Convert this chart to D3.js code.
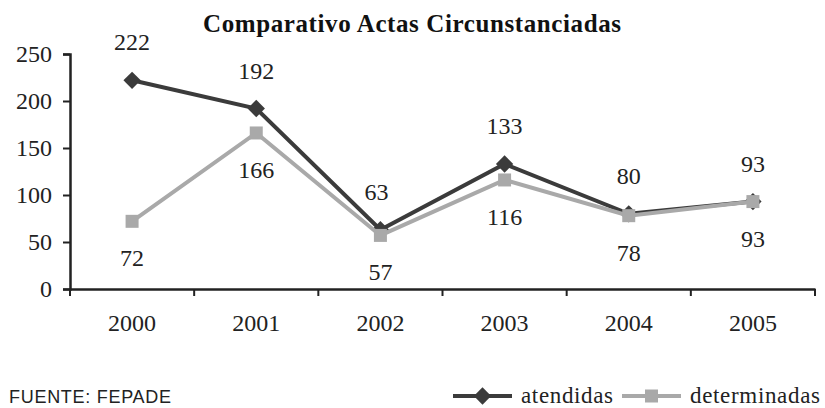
<!DOCTYPE html>
<html>
<head>
<meta charset="utf-8">
<script src="https://cdn.jsdelivr.net/npm/d3@7"></script>
<style>
  body { margin: 0; background: #fff; }
</style>
</head>
<body>
<svg id="scene"></svg>
<script>
// chart data
let years = ['2000', '2001', '2002', '2003', '2004', '2005']
let atendidas = [222, 192, 63, 133, 80, 93]
let determinadas = [72, 166, 57, 116, 78, 93]
let yTicks = [0, 50, 100, 150, 200, 250]

const serif = '"Liberation Serif", "Times New Roman", serif'

function init() {
    let width = 825,
        height = 408,
        svg = d3.select('#scene').attr('width', width).attr('height', height)

    let xScale = d3.scaleBand().domain(years).range([70, 815])
    let yScale = d3.scaleLinear().domain([0, 250]).range([289, 54])
    let cx = d => xScale(d) + xScale.bandwidth() / 2

    svg.append('text')
        .text('Comparativo Actas Circunstanciadas')
        .attr('x', 412)
        .attr('y', 32)
        .attr('text-anchor', 'middle')
        .attr('font-family', serif)
        .attr('font-weight', 'bold')
        .attr('font-size', '25px')
        .attr('textLength', 418)
        .attr('fill', '#111')

    // y axis
    let yAxis = svg.append('g')
        .attr('transform', 'translate(70,0)')
        .call(d3.axisLeft(yScale).tickValues(yTicks).tickSize(7).tickPadding(11))
    yAxis.select('.domain').attr('stroke', '#222').attr('stroke-width', 2.5)
    yAxis.selectAll('.tick line').attr('stroke', '#222').attr('stroke-width', 2)
    yAxis.selectAll('.tick text')
        .attr('font-family', serif)
        .attr('font-size', '24px')
        .attr('fill', '#222')

    // x axis
    let xAxis = svg.append('g')
        .attr('transform', 'translate(0,289)')
        .call(d3.axisBottom(xScale).tickSize(0).tickPadding(25))
    xAxis.select('.domain').attr('stroke', '#222').attr('stroke-width', 2.5)
    xAxis.selectAll('.tick text')
        .attr('font-family', serif)
        .attr('font-size', '24px')
        .attr('fill', '#222')
    xAxis.selectAll('line.sep')
        .data(d3.range(years.length + 1))
        .enter()
        .append('line')
        .attr('class', 'sep')
        .attr('x1', i => 70 + i * xScale.step())
        .attr('x2', i => 70 + i * xScale.step())
        .attr('y1', 0)
        .attr('y2', 7)
        .attr('stroke', '#222')
        .attr('stroke-width', 2)

    let line = d3.line().x((d, i) => cx(years[i])).y(d => yScale(d))

    let series = [
        { name: 'atendidas', values: atendidas, color: '#3b3b3b', marker: d3.symbolSquare, size: 150, rot: 45, dy: -30 },
        { name: 'determinadas', values: determinadas, color: '#a9a9a9', marker: d3.symbolSquare, size: 169, rot: 0, dy: 45 }
    ]

    series.forEach(s => {
        svg.append('path')
            .datum(s.values)
            .attr('d', line)
            .attr('fill', 'none')
            .attr('stroke', s.color)
            .attr('stroke-width', 4)
        svg.selectAll('path.m-' + s.name)
            .data(s.values)
            .enter()
            .append('path')
            .attr('class', 'm-' + s.name)
            .attr('d', d3.symbol().type(s.marker).size(s.size))
            .attr('transform', (d, i) => `translate(${cx(years[i])},${yScale(d)}) rotate(${s.rot})`)
            .attr('fill', s.color)
        svg.selectAll('text.l-' + s.name)
            .data(s.values)
            .enter()
            .append('text')
            .attr('class', 'l-' + s.name)
            .text(d => d)
            .attr('x', (d, i) => cx(years[i]) + (s.name === 'atendidas' && i === 2 ? -4 : 0))
            .attr('y', d => yScale(d) + s.dy)
            .attr('text-anchor', 'middle')
            .attr('font-family', serif)
            .attr('font-size', '24px')
            .attr('fill', '#222')
    })

    svg.append('text')
        .text('FUENTE: FEPADE')
        .attr('x', 9)
        .attr('y', 403)
        .attr('font-family', '"Liberation Sans", Arial, sans-serif')
        .attr('font-size', '18px')
        .attr('textLength', 162)
        .attr('fill', '#222')

    // legend
    let legend = [
        { s: series[0], x1: 453, x2: 512, tx: 521, tw: 92 },
        { s: series[1], x1: 622, x2: 681, tx: 690, tw: 130 }
    ]
    let lg = svg.selectAll('g.legend')
        .data(legend)
        .enter()
        .append('g')
        .attr('class', 'legend')
    lg.append('line')
        .attr('x1', d => d.x1)
        .attr('x2', d => d.x2)
        .attr('y1', 396)
        .attr('y2', 396)
        .attr('stroke', d => d.s.color)
        .attr('stroke-width', 4)
    lg.append('path')
        .attr('d', d => d3.symbol().type(d.s.marker).size(d.s.size)())
        .attr('transform', d => `translate(${(d.x1 + d.x2) / 2},396) rotate(${d.s.rot})`)
        .attr('fill', d => d.s.color)
    lg.append('text')
        .text(d => d.s.name)
        .attr('x', d => d.tx)
        .attr('y', 403)
        .attr('font-family', serif)
        .attr('font-size', '23px')
        .attr('textLength', d => d.tw)
        .attr('fill', '#222')
}

onload = function () {
    init()
}
</script>
</body>
</html>
